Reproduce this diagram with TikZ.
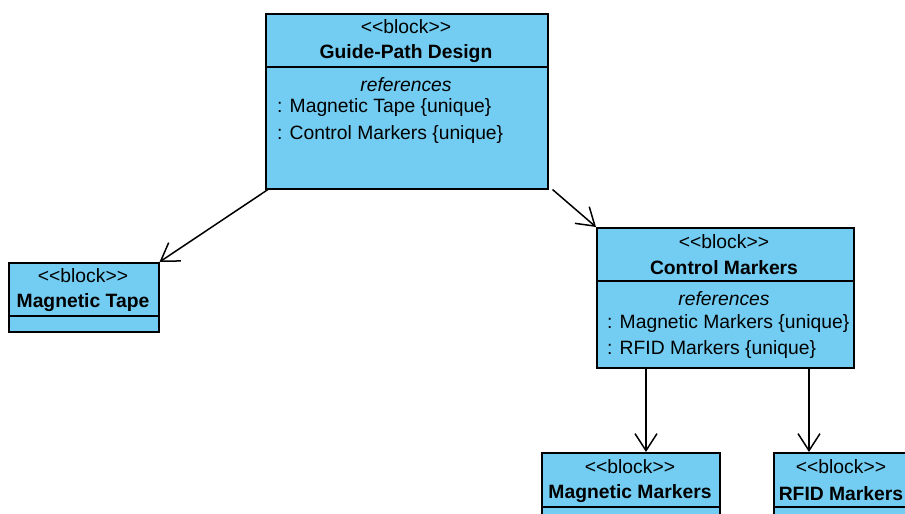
\documentclass[tikz,border=0pt]{standalone}
\usepackage{fontspec}
\newfontfamily\diagfont{Liberation Sans}
\usetikzlibrary{arrows.meta}
\definecolor{blockblue}{RGB}{115,205,242}

\begin{document}
\begin{tikzpicture}[
		x=1pt, y=-1pt,
		every node/.style={font=\diagfont\fontsize{19.3}{23}\selectfont, inner sep=0pt},
		block/.style={draw, line width=1.5pt, fill=blockblue, anchor=north west},
		divider/.style={line width=1.5pt},
		blockname/.style={font=\diagfont\bfseries\fontsize{19.3}{23}\selectfont},
		kind/.style={font=\diagfont\itshape\fontsize{19.3}{23}\selectfont},
		part/.style={anchor=west},
		arrow/.style={-{Straight Barb[length=17pt,width=22pt]}, line width=1.5pt}
		]
		
		\useasboundingbox (0,0) rectangle (905,514);
		\clip (0,0) rectangle (905,514);
		
		% -------- Guide-Path Design --------
		\node[block, minimum width=282pt, minimum height=175pt] (gpd) at (265,13) {};
		\draw[divider] (265,67) -- (547,67);
		\node (gpdst) at (406,27) {<<block>>};
		\node[blockname] (gpdnm) at (406,54) {Guide-Path Design};
		\node[kind] (gpdref) at (406,85) {references};
		\node[part] (gpdp1) at (277,108) {: Magnetic Tape \{unique\}};
		\node[part] (gpdp2) at (277,135) {: Control Markers \{unique\}};
		
		% -------- Magnetic Tape --------
		\node[block, minimum width=150pt, minimum height=69pt] (mt) at (8,262) {};
		\draw[divider] (8,316) -- (158,316);
		\node (mtst) at (83,276) {<<block>>};
		\node[blockname] (mtnm) at (83,303) {Magnetic Tape};
		
		% -------- Control Markers --------
		\node[block, minimum width=257pt, minimum height=140pt] (cm) at (596,227) {};
		\draw[divider] (596,281) -- (853,281);
		\node (cmst) at (724,242) {<<block>>};
		\node[blockname] (cmnm) at (724,268) {Control Markers};
		\node[kind] (cmref) at (724,299) {references};
		\node[part] (cmp1) at (607,324) {: Magnetic Markers \{unique\}};
		\node[part] (cmp2) at (607,350) {: RFID Markers \{unique\}};
		
		% -------- Magnetic Markers --------
		\node[block, minimum width=178pt, minimum height=80pt] (mm) at (541,452) {};
		\draw[divider] (541,507) -- (719,507);
		\node (mmst) at (630,467) {<<block>>};
		\node[blockname] (mmnm) at (630,494) {Magnetic Markers};
		
		% -------- RFID Markers --------
		\node[block, minimum width=136pt, minimum height=80pt] (rm) at (773,452) {};
		\draw[divider] (773,507) -- (909,507);
		\node (rmst) at (841,467) {<<block>>};
		\node[blockname] (rmnm) at (841,494) {RFID Markers};
		
		% ---- References ----
		\draw[arrow] ([xshift=3pt]gpd.south west) -- (mt.north east);
		\draw[arrow] ([xshift=4pt]gpd.south east) -- (cm.north west);
		\draw[arrow] ([xshift=50pt]cm.south west) -- ([xshift=50pt]cm.south west |- mm.north);
		\draw[arrow] ([xshift=213pt]cm.south west) -- ([xshift=213pt]cm.south west |- rm.north);
		
	\end{tikzpicture}
\end{document}
